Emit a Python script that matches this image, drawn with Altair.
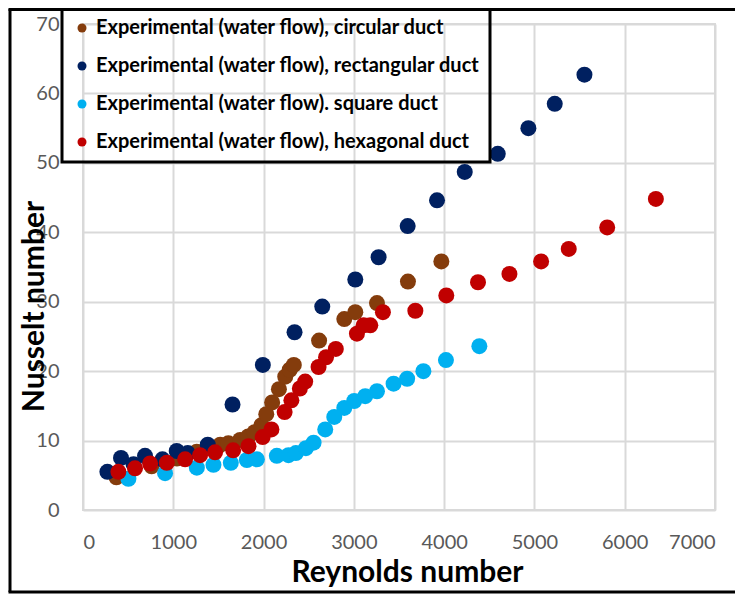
import altair as alt
import pandas as pd

series_names = [
    "Experimental (water flow), circular duct",
    "Experimental (water flow), rectangular duct",
    "Experimental (water flow). square duct",
    "Experimental (water flow), hexagonal duct",
]
series_colors = ["#843C0C", "#002060", "#00B0F0", "#C00000"]

circ_re = [370, 760, 1040, 1260, 1440, 1520, 1610, 1740, 1830, 1900, 1975, 2030, 2095, 2170,
           2240, 2290, 2335, 2615, 2894, 3016, 3256, 3599, 3969]
circ_nu = [4.7, 6.3, 7.4, 8.4, 8.9, 9.4, 9.6, 10.1, 10.6, 11.2, 12.2, 13.8, 15.5, 17.4,
           19.2, 20.2, 20.9, 24.4, 27.5, 28.5, 29.8, 32.9, 35.8]

rect_re = [270, 421, 560, 687, 880, 1038, 1160, 1382, 1656, 1992, 2343, 2650, 3016, 3274, 3596,
           3921, 4228, 4594, 4933, 5225, 5554]
rect_nu = [5.5, 7.5, 6.6, 7.8, 7.3, 8.5, 8.2, 9.4, 15.2, 20.9, 25.6, 29.3, 33.2, 36.4, 40.9,
           44.6, 48.7, 51.3, 55.0, 58.5, 62.7]

sq_re = [503, 909, 1261, 1445, 1637, 1815, 1926, 2147, 2276, 2358, 2469, 2554, 2683, 2783, 2894,
         3004, 3126, 3256, 3440, 3590, 3770, 4020, 4390]
sq_nu = [4.5, 5.3, 6.1, 6.5, 6.8, 7.2, 7.3, 7.8, 7.9, 8.2, 8.9, 9.7, 11.6, 13.4, 14.7,
         15.7, 16.4, 17.1, 18.2, 18.9, 20.0, 21.6, 23.6]

hex_re = [392, 576, 743, 928, 1131, 1297, 1463, 1663, 1833, 1990, 2087, 2233, 2308, 2402, 2461,
          2609, 2692, 2800, 3034, 3108, 3182, 3322, 3681, 4024, 4375, 4723, 5074, 5380, 5806, 6345]
hex_nu = [5.5, 6.0, 6.7, 6.8, 7.3, 7.9, 8.3, 8.6, 9.2, 10.5, 11.6, 14.1, 15.8, 17.5, 18.5,
          20.6, 22.0, 23.2, 25.4, 26.6, 26.6, 28.5, 28.7, 30.9, 32.8, 34.0, 35.8, 37.6, 40.7, 44.8]

x_ticks = [0, 1000, 2000, 3000, 4000, 5000, 6000, 7000]
y_ticks = [0, 10, 20, 30, 40, 50, 60, 70]

rows = []
for name, xs, ys in zip(series_names, [circ_re, rect_re, sq_re, hex_re], [circ_nu, rect_nu, sq_nu, hex_nu]):
    for xv, yv in zip(xs, ys):
        rows.append({"series": name, "Re": xv, "Nu": yv})
df = pd.DataFrame(rows)
df["order"] = range(len(df))

points = alt.Chart(df).mark_circle(size=256, opacity=1).encode(
    x=alt.X("Re:Q", scale=alt.Scale(domain=[0, 7000], nice=False),
            axis=alt.Axis(values=x_ticks, title="Reynolds number", format="d",
                          titleX=324, titleY=71, titleBaseline="alphabetic", labelPadding=22)),
    y=alt.Y("Nu:Q", scale=alt.Scale(domain=[0, 70], nice=False),
            axis=alt.Axis(values=y_ticks, title="Nusselt number", format="d",
                          titleX=-40, titleY=282, titleAngle=270, titleAlign="center",
                          titleBaseline="alphabetic", labelPadding=24)),
    color=alt.Color("series:N",
                    scale=alt.Scale(domain=series_names, range=series_colors),
                    legend=alt.Legend(title=None, orient="none", legendX=-21, legendY=-16)),
    order=alt.Order("order:Q"),
)

frame_data = alt.Data(values=[{"k": 1}])
frame_left = alt.Chart(frame_data).mark_rule(color="black", strokeWidth=3).encode(
    x=alt.value(-73), y=alt.value(-15), y2=alt.value(568))
frame_top = alt.Chart(frame_data).mark_rule(color="black", strokeWidth=3).encode(
    y=alt.value(-14.5), x=alt.value(-74.5), x2=alt.value(660))
frame_bottom = alt.Chart(frame_data).mark_rule(color="black", strokeWidth=3).encode(
    y=alt.value(568), x=alt.value(-74.5), x2=alt.value(660))

chart = alt.layer(points, frame_left, frame_top, frame_bottom).properties(
    width=632, height=486,
    autosize=alt.AutoSizeParams(type="none"),
    padding={"left": 75, "top": 16, "right": 20, "bottom": 84},
    background="white",
).configure_view(
    stroke="#d9d9d9", strokeWidth=2
).configure_axis(
    grid=True, gridColor="#d9d9d9", gridWidth=2, domain=False, ticks=False,
    labelFont="Lato", labelFontSize=20, labelColor="#595959",
    titleFont="Lato", titleFontSize=30, titleFontWeight="bold", titleColor="black",
).configure_legend(
    labelFont="Lato", labelFontSize=20, labelFontWeight="bold", labelColor="black",
    symbolType="circle", symbolSize=81, symbolStrokeWidth=0, symbolOpacity=1,
    rowPadding=18, padding=10, strokeColor="black", strokeWidth=3, labelLimit=600,
)

chart.save("out.html", embed_options={"renderer": "svg", "actions": False})
